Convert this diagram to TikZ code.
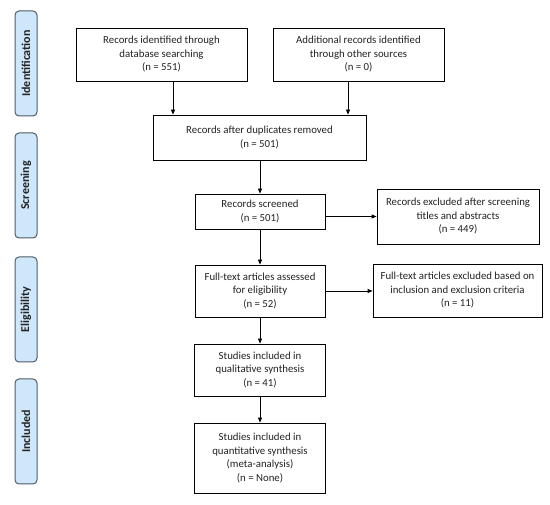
\documentclass[tikz,border=0pt]{standalone}
\usepackage{fontspec}
\setmainfont{Carlito}
\usetikzlibrary{arrows.meta,calc}
\definecolor{sidefill}{HTML}{CFE7FA}
\definecolor{sideline}{HTML}{4F5B66}
\definecolor{txt}{HTML}{222222}
\tikzset{
  box/.style={draw=black, line width=0.8pt, align=center, font=\fontsize{10.8}{13.5}\selectfont, text=txt, inner sep=2pt},
  side/.style={draw=sideline, fill=sidefill, line width=1pt, rounded corners=4pt, rotate=90,
    minimum width=105, minimum height=22, inner sep=0pt, font=\fontsize{12}{13}\selectfont\bfseries, text=txt},
  arr/.style={line width=0.8pt, -{Triangle[length=5pt,width=4pt]}}
}
\begin{document}
\begin{tikzpicture}[x=1pt,y=-1pt]
\useasboundingbox (0,0) rectangle (550,505);
\node[side] (s1) at (26,63.5) {Identification};
\node[side] (s2) at (26,185.5) {Screening};
\node[side] (s3) at (26,309.5) {Eligibility};
\node[side] (s4) at (26,431.5) {Included};

\node[box, minimum width=171, minimum height=53] (b1) at (161.5,54.5) {Records identified through\\database searching\\(n = 551)};
\node[box, minimum width=171, minimum height=53] (b2) at (358.5,54.5) {Additional records identified\\through other sources\\(n = 0)};
\node[box, minimum width=213, minimum height=45] (b3) at (259.5,137.5) {Records after duplicates removed\\(n = 501)};
\node[box, minimum width=130, minimum height=35] (b4) at (260,211.5) {Records screened\\(n = 501)};
\node[box, minimum width=162, minimum height=55] (b5) at (458,216.5) {Records excluded after screening\\titles and abstracts\\(n = 449)};
\node[box, minimum width=130, minimum height=52] (b6) at (260,291) {Full-text articles assessed\\for eligibility\\(n = 52)};
\node[box, minimum width=169, minimum height=53] (b7) at (457.5,290.5) {Full-text articles excluded based on\\inclusion and exclusion criteria\\(n = 11)};
\node[box, minimum width=131, minimum height=52] (b8) at (260,370) {Studies included in\\qualitative synthesis\\(n = 41)};
\node[box, minimum width=131, minimum height=70] (b9) at (260,458) {Studies included in\\quantitative synthesis\\(meta-analysis)\\(n = None)};

\draw[arr] ([xshift=11.5]b1.south) coordinate (p1) -- (p1 |- b3.north);
\draw[arr] ([xshift=-10.5]b2.south) coordinate (p2) -- (p2 |- b3.north);
\draw[arr] (b3.south -| b4.north) -- (b4.north);
\draw[arr] (b5.west -| b4.east) -- (b5.west);
\draw[arr] (b4.south) -- (b6.north);
\draw[arr] (b6.east) -- (b6.east -| b7.west);
\draw[arr] (b6.south) -- (b8.north);
\draw[arr] (b8.south) -- (b9.north);
\end{tikzpicture}
\end{document}
